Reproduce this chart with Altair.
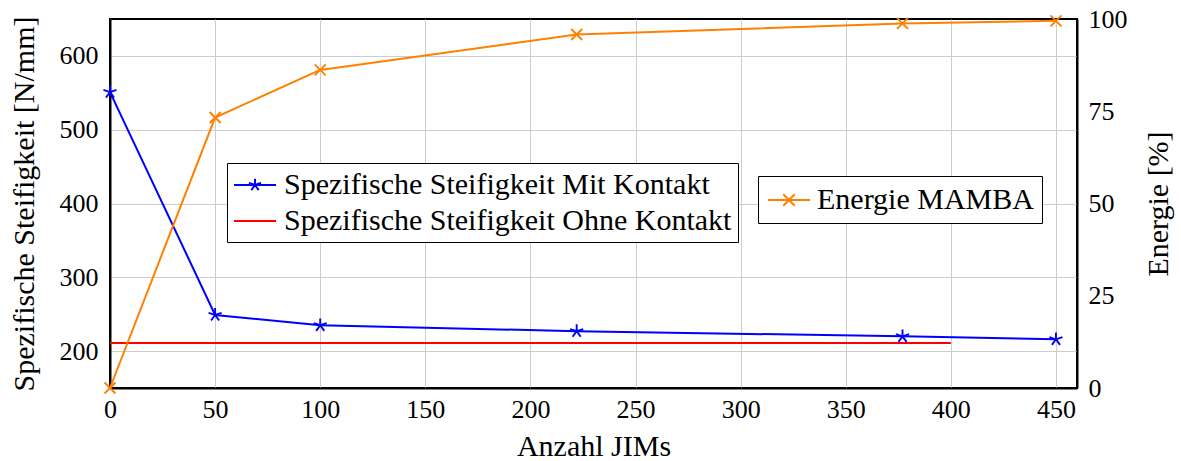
import altair as alt
import pandas as pd

# ---- data ----
jims = [0, 50, 100, 222, 377, 450]
steif_mit = [551, 249, 235, 227, 220, 216]
energie = [0, 73.3, 86.2, 95.8, 98.8, 99.5]
ohne_x = [0, 400]
ohne_y = [211, 211]

legend1_labels = ["Spezifische Steifigkeit Mit Kontakt", "Spezifische Steifigkeit Ohne Kontakt"]
legend2_labels = ["Energie MAMBA"]

x_ticks = [0, 50, 100, 150, 200, 250, 300, 350, 400, 450]
left_ticks = [200, 300, 400, 500, 600]
right_ticks = [0, 25, 50, 75, 100]

FONT = "Liberation Serif"
BLUE, RED, ORANGE = "#0000ff", "#ff0000", "#ff8000"

STAR = "M0,0L0,-1M0,0L0.951,-0.309M0,0L0.588,0.809M0,0L-0.588,0.809M0,0L-0.951,-0.309"
CROSS = "M-1,-1L1,1M-1,1L1,-1"
LEG_STAR = ("M-1.4,0L1.4,0M0,0L0,-0.42M0,0L0.4,-0.13M0,0L0.247,0.34"
            "M0,0L-0.247,0.34M0,0L-0.4,-0.13")
LEG_LINE = "M-1.4,0L1.4,0"
LEG_CROSS = "M-1.4,0L1.4,0M-0.38,-0.38L0.38,0.38M-0.38,0.38L0.38,-0.38"

df_mit = pd.DataFrame({"x": jims, "y": steif_mit})
df_ohne = pd.DataFrame({"x": ohne_x, "y": ohne_y})
df_en = pd.DataFrame({"x": jims, "e": energie})
df_leg1 = pd.DataFrame({"s": legend1_labels})
df_leg2 = pd.DataFrame({"s": legend2_labels})

X = alt.X("x:Q", scale=alt.Scale(domain=[0, 460], nice=False, zero=False),
          axis=alt.Axis(values=x_ticks, title="Anzahl JIMs", grid=True, labelPadding=8,
                        titlePadding=9, labelFlush=False))
YL = alt.Y("y:Q", scale=alt.Scale(domain=[150, 650], nice=False, zero=False),
           axis=alt.Axis(values=left_ticks, title="Spezifische Steifigkeit [N/mm]", grid=True,
                         labelPadding=12, titlePadding=20))
YR = alt.Y("e:Q", scale=alt.Scale(domain=[0, 100], nice=False, zero=False),
           axis=alt.Axis(orient="right", values=right_ticks, title="Energie [%]", grid=False,
                         labelPadding=11, titlePadding=46, titleAngle=270))


def legend(lx, ly, pad, soff, loff):
    return alt.Legend(title=None, orient="none", legendX=lx, legendY=ly,
                      strokeColor="black", fillColor="white", padding=pad,
                      labelFont=FONT, labelFontSize=30, labelColor="black", labelLimit=0,
                      symbolSize=900, symbolStrokeWidth=2, symbolOffset=soff,
                      labelOffset=loff, rowPadding=5)


blue_line = alt.Chart(df_mit).mark_line(color=BLUE, strokeWidth=2).encode(x=X, y=YL)
blue_pts = alt.Chart(df_mit).mark_point(shape=STAR, size=190, color=BLUE, filled=False,
                                        strokeWidth=1.9, opacity=1).encode(x=X, y=YL)
red_line = alt.Chart(df_ohne).mark_line(color=RED, strokeWidth=2).encode(x=X, y=YL)
leg1 = alt.Chart(df_leg1).mark_point(filled=False, opacity=1, strokeWidth=2).encode(
    color=alt.Color("s:N", scale=alt.Scale(domain=legend1_labels, range=[BLUE, RED]),
                    legend=legend(117, 144, 6, 6, 13)),
    shape=alt.Shape("s:N", scale=alt.Scale(domain=legend1_labels, range=[LEG_STAR, LEG_LINE]),
                    legend=legend(117, 144, 6, 6, 13)),
).transform_filter("false")

left = alt.layer(red_line, blue_line, blue_pts, leg1)

or_line = alt.Chart(df_en).mark_line(color=ORANGE, strokeWidth=2).encode(x=X, y=YR)
or_pts = alt.Chart(df_en).mark_point(shape=CROSS, size=120, color=ORANGE, filled=False,
                                     strokeWidth=1.9, opacity=1).encode(x=X, y=YR)
leg2 = alt.Chart(df_leg2).mark_point(filled=False, opacity=1, strokeWidth=2).encode(
    color=alt.Color("s:N", scale=alt.Scale(domain=legend2_labels, range=[ORANGE]),
                    legend=legend(648, 157, 8, 7, 12)),
    shape=alt.Shape("s:N", scale=alt.Scale(domain=legend2_labels, range=[LEG_CROSS]),
                    legend=legend(648, 157, 8, 7, 12)),
).transform_filter("false")

right = alt.layer(or_line, or_pts, leg2)

chart = alt.layer(left, right).resolve_scale(
    y="independent", color="independent", shape="independent"
).properties(
    width=967, height=369,
    autosize=alt.AutoSizeParams(type="none"),
    padding={"left": 110, "top": 19, "right": 104, "bottom": 73},
    background="white",
).configure_view(
    stroke="black", strokeWidth=2
).configure_axis(
    labelFont=FONT, labelFontSize=26, labelColor="black",
    titleFont=FONT, titleFontSize=30, titleColor="black", titleFontWeight="normal",
    domainColor="black", domainWidth=2, ticks=False,
    gridColor="#cccccc", gridWidth=1,
)

chart.save("out.html", embed_options={"renderer": "svg", "actions": False})
